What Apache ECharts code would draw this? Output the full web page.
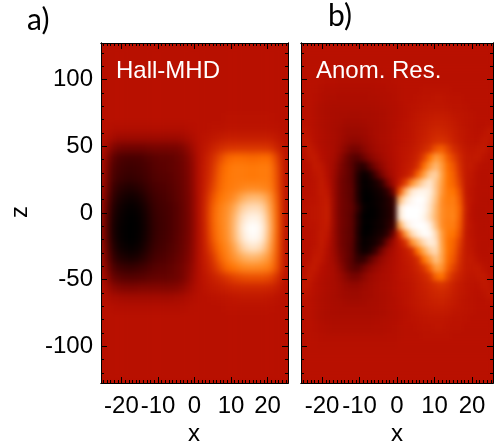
<!DOCTYPE html>
<html>
<head>
<meta charset="utf-8">
<style>
  html, body { margin: 0; padding: 0; background: #fff; }
  .clip { position: absolute; overflow: hidden; background: #b81000; }
  .heat { position: absolute; left: 0; top: 0; width: 100%; height: 100%; }
  #heatA { filter: blur(3.5px); }
  #heatB { filter: blur(2.5px); }
  #frame { position: absolute; left: 0; top: 0; width: 500px; height: 447px; }
</style>
<script src="https://cdn.jsdelivr.net/npm/echarts@6/dist/echarts.min.js"></script>
</head>
<body>
<div class="clip" style="left:101px;top:43px;width:187px;height:340px"><div id="heatA" class="heat"></div></div>
<div class="clip" style="left:301px;top:43px;width:192px;height:340px"><div id="heatB" class="heat"></div></div>
<div id="frame"></div>
<script>
const xTicks = [-20, -10, 0, 10, 20]
const zTicks = [-100, -50, 0, 50, 100]
const xMinorTicks = [-25,-24,-23,-22,-21,-19,-18,-17,-16,-15,-14,-13,-12,-11,-9,-8,-7,-6,-5,-4,-3,-2,-1,1,2,3,4,5,6,7,8,9,11,12,13,14,15,16,17,18,19,21,22,23,24,25]
const zMinorTicks = [-120,-110,-90,-80,-70,-60,-40,-30,-20,-10,10,20,30,40,60,70,80,90,110,120]
const xRange = [-25.6, 25.6]
const zRange = [-127.5, 127.5]

// one colour per level, -9 (black) .. 0 (background red) .. 9 (white)
const levelColors = ['#000000', '#100000', '#200000', '#340000', '#480000', '#600200', '#780400', '#900800', '#a80c00', '#b81000',
  '#c82000', '#d83400', '#ee5400', '#ff7400', '#ff8e28', '#ffa850', '#ffc890', '#ffe8d0', '#ffffff']

// panel a, read row by row from the top
const hallRows = [
  [0,0,0,0,0,0,0,0,0,0,0,0,0,0,0,0,0,0,0,0,0,0,0,0,0,0],
  [0,0,0,0,0,0,0,0,0,0,0,0,0,0,0,0,0,0,0,0,0,0,0,0,0,0],
  [0,0,0,0,0,0,0,0,0,0,0,0,0,0,0,0,0,0,0,0,0,0,0,0,0,0],
  [0,0,0,0,0,0,0,0,0,0,0,0,0,0,0,0,0,0,0,0,0,0,0,0,0,0],
  [0,0,0,0,0,0,0,0,0,0,0,0,0,0,0,0,0,0,0,0,0,0,0,0,0,0],
  [0,0,0,0,0,0,0,0,0,0,0,0,0,0,0,0,0,0,0,0,0,0,0,0,0,0],
  [0,0,0,0,0,0,0,0,0,0,0,0,0,0,0,0,0,0,0,0,0,0,0,0,0,0],
  [0,0,0,0,0,0,0,0,0,0,0,0,0,0,0,0,0,.1,.1,.1,.1,.1,.1,.1,0,0],
  [0,-.3,-.4,-.4,-.4,-.4,-.4,-.4,-.4,-.4,-.4,-.4,-.2,0,0,.1,.1,.2,.2,.2,.2,.2,.2,.2,.1,0],
  [-.3,-1,-1.4,-1.4,-1.4,-1.4,-1.4,-1.4,-1.4,-1.4,-1.4,-1.2,-.8,-.1,.2,.4,.6,.8,.8,.8,.8,.8,.8,.8,.5,.1],
  [-.8,-2.4,-3.2,-3.3,-3.3,-3.3,-3.2,-3.1,-3.1,-3,-3,-2.6,-1.6,-.3,.4,1,1.5,1.9,2,2,2,2,2,1.9,1.2,.3],
  [-1.4,-3.8,-4.8,-5,-5,-4.9,-4.6,-4.3,-4.1,-4,-3.7,-3.2,-2.2,-.5,.7,1.6,2.6,3.5,3.8,3.8,3.7,3.7,3.8,3.8,2.4,.5],
  [-1.6,-4.4,-5.2,-5.5,-5.5,-5.3,-4.9,-4.5,-4.3,-4.1,-3.8,-3.3,-2.4,-.5,.8,1.9,3.2,4,4.3,4.3,4.2,4.2,4.3,4.3,2.8,.5],
  [-1.7,-4.7,-5.6,-5.9,-5.9,-5.6,-5.2,-4.7,-4.5,-4.3,-3.9,-3.4,-2.5,-.5,.9,2.1,3.4,4.1,4.3,4.3,4.2,4.2,4.3,4.3,2.9,.5],
  [-2,-5.2,-6.5,-6.9,-6.9,-6.4,-5.7,-5.1,-4.8,-4.5,-4.1,-3.5,-2.6,-.5,1,2.4,3.6,4.2,4.4,4.6,4.8,4.8,4.7,4.5,3,.5],
  [-2.4,-5.8,-7.3,-7.9,-8,-7.4,-6.3,-5.5,-5.1,-4.7,-4.2,-3.6,-2.7,-.6,1.2,2.9,4,4.5,5,6,6.5,6.6,6.4,5.4,3.3,.5],
  [-2.7,-6.4,-8,-8.6,-8.7,-8.1,-6.9,-5.8,-5.3,-4.9,-4.4,-3.7,-2.7,-.6,1.3,3.3,4.4,5,6,7.1,7.6,7.7,7.4,6,3.5,.5],
  [-2.9,-6.8,-8.4,-8.9,-9,-8.5,-7.2,-6,-5.5,-5,-4.4,-3.7,-2.8,-.6,1.3,3.4,4.5,5.1,6.4,7.7,8.4,8.5,8,6.3,3.6,.5],
  [-3,-7,-8.6,-9,-9,-8.6,-7.3,-6.1,-5.5,-5,-4.4,-3.7,-2.8,-.6,1.2,3.3,4.4,5.1,6.5,8,8.9,9,8.4,6.5,3.6,.5],
  [-2.9,-6.8,-8.5,-9,-9,-8.5,-7.2,-6,-5.4,-4.9,-4.3,-3.6,-2.7,-.6,1.1,3.1,4.3,5,6.4,7.8,8.7,8.8,8.2,6.3,3.5,.5],
  [-2.6,-6.2,-8,-8.5,-8.6,-8,-6.7,-5.7,-5.2,-4.7,-4.2,-3.5,-2.6,-.6,1,2.6,3.9,4.7,5.8,7.1,7.8,7.9,7.4,5.9,3.4,.5],
  [-2.2,-5.4,-7,-7.4,-7.5,-6.9,-6,-5.2,-4.8,-4.4,-3.9,-3.3,-2.4,-.5,.8,2,3.4,4.4,5.2,6,6.4,6.4,6.1,5.2,3.2,.5],
  [-1.7,-4.4,-5.5,-5.8,-5.8,-5.4,-4.9,-4.5,-4.3,-4,-3.6,-3,-2.1,-.5,.6,1.5,2.6,3.7,4.1,4.6,4.8,4.8,4.7,4.4,2.9,.5],
  [-1.2,-3.4,-4.2,-4.4,-4.4,-4.3,-4.1,-3.9,-3.8,-3.7,-3.4,-2.9,-1.8,-.4,.4,.9,1.4,2,2.4,2.7,2.8,2.8,2.8,2.6,1.8,.3],
  [-.7,-2,-2.6,-2.7,-2.7,-2.6,-2.6,-2.6,-2.6,-2.6,-2.4,-2,-1.2,-.3,.2,.5,.7,1,1.2,1.3,1.3,1.3,1.3,1.2,.8,.1],
  [-.3,-.9,-1.1,-1.2,-1.2,-1.2,-1.2,-1.2,-1.2,-1.2,-1.1,-.9,-.5,-.1,0,.1,.2,.3,.4,.5,.5,.5,.5,.4,.2,0],
  [0,-.2,-.4,-.4,-.4,-.4,-.4,-.4,-.4,-.4,-.4,-.3,-.1,0,0,0,0,.1,.1,.1,.1,.1,.1,.1,0,0],
  [0,0,0,0,0,0,0,0,0,0,0,0,0,0,0,0,0,0,0,0,0,0,0,0,0,0],
  [0,0,0,0,0,0,0,0,0,0,0,0,0,0,0,0,0,0,0,0,0,0,0,0,0,0],
  [0,0,0,0,0,0,0,0,0,0,0,0,0,0,0,0,0,0,0,0,0,0,0,0,0,0],
  [0,0,0,0,0,0,0,0,0,0,0,0,0,0,0,0,0,0,0,0,0,0,0,0,0,0],
  [0,0,0,0,0,0,0,0,0,0,0,0,0,0,0,0,0,0,0,0,0,0,0,0,0,0],
  [0,0,0,0,0,0,0,0,0,0,0,0,0,0,0,0,0,0,0,0,0,0,0,0,0,0],
  [0,0,0,0,0,0,0,0,0,0,0,0,0,0,0,0,0,0,0,0,0,0,0,0,0,0]
]

// panel b, read row by row from the top
const anomRows = [
  [0,0,0,0,0,0,0,0,0,0,0,0,0,0,0,0,0,0,0,0,0,0,0,0,0,0,0,0,0,0,0,0],
  [0,0,0,0,0,0,0,0,0,0,0,0,0,0,0,0,0,0,0,0,0,0,0,0,0,0,0,0,0,0,0,0],
  [0,0,0,0,0,0,0,0,0,0,0,0,0,0,0,0,0,0,0,0,0,0,0,0,0,0,0,0,0,0,0,0],
  [0,0,0,0,-.1,-.1,-.1,-.1,-.1,-.1,-.1,-.1,-.1,-.1,0,0,0,0,0,0,0,0,0,0,0,0,0,0,0,0,0,0],
  [0,0,0,-.1,-.2,-.2,-.3,-.3,-.3,-.3,-.3,-.3,-.3,-.2,-.2,-.1,0,0,0,0,0,0,0,0,0,0,0,0,0,0,0,0],
  [0,0,-.1,-.3,-.4,-.4,-.5,-.5,-.5,-.5,-.5,-.5,-.4,-.4,-.3,-.2,-.1,0,0,0,.1,.1,.1,.1,.1,0,0,0,0,0,0,0],
  [0,0,-.2,-.4,-.6,-.6,-.7,-.7,-.7,-.7,-.7,-.6,-.6,-.5,-.4,-.3,-.1,0,0,.1,.2,.2,.3,.3,.2,.1,.1,0,0,0,0,0],
  [0,0,-.3,-.6,-.7,-.8,-.8,-.8,-.8,-.8,-.8,-.8,-.7,-.6,-.5,-.4,-.2,0,.1,.2,.3,.4,.4,.4,.3,.2,.2,.1,0,0,0,0],
  [0,0,-.3,-.6,-.8,-.9,-1,-1,-1.1,-1.1,-1,-1,-.9,-.8,-.6,-.4,-.2,0,.2,.4,.5,.6,.7,.7,.6,.4,.3,.2,.1,0,0,0],
  [.1,0,-.3,-.6,-.8,-1,-1.1,-1.3,-1.3,-1.3,-1.2,-1.1,-1,-.8,-.6,-.4,-.1,.1,.3,.5,.7,.9,1,1,.9,.6,.4,.2,.1,0,0,.1],
  [.4,.1,-.2,-.5,-.8,-1,-1.2,-1.5,-1.6,-1.6,-1.4,-1.2,-1,-.8,-.6,-.3,0,.1,.3,.6,.8,1.1,1.3,1.3,1.1,.8,.5,.3,.1,0,.2,.5],
  [.6,.3,-.2,-.5,-.8,-1,-1.3,-1.7,-2,-2,-1.7,-1.4,-1.1,-.8,-.6,-.3,0,.2,.4,.7,1,1.3,1.7,1.8,1.5,1,.6,.3,.2,.1,.5,.3],
  [.2,.6,.1,-.4,-.7,-1,-1.5,-2.3,-3,-3,-2.3,-1.7,-1.3,-1,-.7,-.3,.1,.3,.5,.9,1.4,2,3,3.3,2.5,1.6,1,.5,.3,.5,.6,.1],
  [0,.5,.5,-.2,-.7,-1.1,-2,-3.2,-4.2,-4.5,-3.5,-2.5,-1.8,-1.3,-.8,-.4,.1,.4,.7,1.2,2.4,4,5.5,4.8,3.3,2.4,1.4,.6,.5,.6,.2,-.1],
  [0,.1,.6,.3,-.6,-1.3,-2.5,-3.5,-4.4,-6,-6.5,-4.5,-2.9,-1.9,-1.1,-.5,.1,.5,.9,1.8,3.8,5.5,6.5,5.5,3.8,3,1.7,.6,.6,.1,-.1,-.1],
  [0,0,.4,.5,-.4,-1.5,-2.8,-3.6,-4.4,-6.8,-8.5,-7.5,-5,-3,-1.6,-.7,.2,.7,1.5,3.5,5.5,7,7.3,5.8,4,3.3,2,.6,.4,-.1,-.2,-.1],
  [0,0,.2,.6,0,-1.6,-3,-3.7,-4.3,-7,-8.8,-8.4,-7.5,-6,-3,-1.2,.8,2.5,5,6.5,7.5,8,7,5.6,4,3.5,2.3,.6,.3,-.1,-.2,-.2],
  [0,0,.2,.6,.3,-1.6,-3,-3.7,-4.2,-7,-9,-8.8,-8.2,-7.5,-6,-3,3,6.5,8,8.5,8.6,8.3,7,5.4,4.2,4,2.8,.6,.2,-.2,-.2,-.2],
  [0,.1,.2,.5,.6,-1.5,-3,-3.6,-4.2,-6.8,-9,-9,-8.5,-8,-7,-5.8,6.5,8,8.7,9,8.9,8,6.8,5,4.3,4.4,3.2,.8,.2,-.2,-.3,-.3],
  [.1,.2,.3,.5,.8,-1.5,-3,-3.6,-4,-6,-8.5,-9,-8.7,-8,-7.2,-6.2,8,9,9,9,8.8,7.8,6.5,5,4.5,4.5,3.5,1,0,-.3,-.3,-.2],
  [.1,.2,.3,.5,.8,-1.5,-3,-3.6,-4.2,-6.8,-9,-9,-8.7,-8,-7.2,-6.2,8,9,9,9,8.6,7.6,6.4,5,4.5,4.6,3.4,.9,0,-.3,-.3,-.2],
  [0,.1,.2,.5,.6,-1.5,-3,-3.6,-4.2,-6.8,-9,-9,-8.4,-8,-6.8,-5.5,6,8,8.8,9,9,8.4,6.8,5,4.4,4.4,3.2,.8,.2,-.2,-.3,-.2],
  [0,0,.2,.6,.3,-1.6,-3,-3.7,-4.2,-7,-9,-8.7,-8,-7.4,-6,-3,2,5.5,7.5,8.4,8.9,8.8,7.6,5.6,4.2,4,2.8,.6,.2,-.2,-.2,-.2],
  [0,0,.2,.6,0,-1.6,-3,-3.7,-4.3,-7,-8.7,-8.2,-7.5,-6,-3,-1.2,.5,2,5,6.5,7.6,8.3,7.9,5.8,4,3.5,2.3,.6,.3,-.1,-.2,-.2],
  [0,0,.4,.5,-.4,-1.5,-2.8,-3.6,-4.4,-6.8,-8.2,-7.5,-5.5,-3,-1.5,-.7,.2,.7,1.5,4,6,7.2,7.6,6,4,3.3,2,.6,.4,-.1,-.2,-.1],
  [0,.1,.6,.3,-.6,-1.3,-2.5,-3.5,-4.4,-6,-6,-4.2,-2.7,-1.7,-1.1,-.5,.1,.5,.9,1.7,4,5.5,6.8,5.9,3.8,3,1.7,.6,.6,.1,-.1,-.1],
  [0,.5,.5,-.2,-.7,-1.1,-2,-3.2,-4.2,-4.5,-3.4,-2.4,-1.7,-1.2,-.8,-.4,.1,.4,.7,1.2,2.1,3.5,5.5,5.2,3.4,2.4,1.4,.6,.5,.6,.2,-.1],
  [.2,.6,.1,-.4,-.7,-1,-1.5,-2.3,-3,-3,-2.2,-1.6,-1.2,-.9,-.7,-.3,.1,.3,.5,.9,1.3,2,3.5,4,2.6,1.6,1,.5,.3,.5,.6,.1],
  [.6,.3,-.2,-.5,-.8,-1,-1.3,-1.7,-1.9,-1.9,-1.6,-1.3,-1.1,-.8,-.6,-.3,0,.2,.4,.7,1,1.3,1.7,2,1.6,1,.6,.3,.2,.1,.5,.3],
  [.4,.1,-.2,-.5,-.8,-1,-1.2,-1.4,-1.5,-1.5,-1.3,-1.2,-1,-.8,-.6,-.3,0,.1,.3,.6,.8,1.1,1.3,1.4,1.2,.8,.5,.3,.1,0,.2,.5],
  [.1,0,-.3,-.6,-.8,-1,-1.1,-1.2,-1.3,-1.3,-1.2,-1.1,-1,-.8,-.6,-.4,-.1,.1,.3,.5,.7,.9,1,1.1,.9,.6,.4,.2,.1,0,0,.1],
  [0,0,-.3,-.6,-.8,-.9,-1,-1,-1,-1,-1,-1,-.9,-.8,-.6,-.4,-.2,0,.2,.4,.5,.6,.7,.7,.6,.4,.3,.2,.1,0,0,0],
  [0,0,-.3,-.6,-.7,-.8,-.8,-.8,-.8,-.8,-.8,-.8,-.7,-.6,-.5,-.4,-.2,0,.1,.2,.3,.4,.4,.4,.3,.2,.2,.1,0,0,0,0],
  [0,0,-.2,-.4,-.5,-.6,-.6,-.6,-.6,-.6,-.6,-.6,-.5,-.5,-.4,-.3,-.1,0,0,.1,.2,.2,.3,.3,.2,.1,.1,0,0,0,0,0],
  [0,0,-.1,-.2,-.3,-.3,-.3,-.3,-.3,-.3,-.3,-.3,-.3,-.3,-.2,-.2,-.1,0,0,0,.1,.1,.1,.1,.1,0,0,0,0,0,0,0],
  [0,0,0,-.1,-.1,-.1,-.1,-.1,-.1,-.1,-.1,-.1,-.1,-.1,-.1,-.1,0,0,0,0,0,0,0,0,0,0,0,0,0,0,0,0],
  [0,0,0,0,0,0,0,0,0,0,0,0,0,0,0,0,0,0,0,0,0,0,0,0,0,0,0,0,0,0,0,0],
  [0,0,0,0,0,0,0,0,0,0,0,0,0,0,0,0,0,0,0,0,0,0,0,0,0,0,0,0,0,0,0,0],
  [0,0,0,0,0,0,0,0,0,0,0,0,0,0,0,0,0,0,0,0,0,0,0,0,0,0,0,0,0,0,0,0],
  [0,0,0,0,0,0,0,0,0,0,0,0,0,0,0,0,0,0,0,0,0,0,0,0,0,0,0,0,0,0,0,0]
]

function drawHeat(id, rows) {
  const cells = []
  rows.forEach((row, r) => row.forEach((v, c) => cells.push([c, r, v])))
  const chart = echarts.init(document.getElementById(id))
  chart.setOption({
    animation: false,
    grid: { left: 0, right: 0, top: 0, bottom: 0 },
    xAxis: { type: 'category', show: false, data: rows[0].map((_, i) => i) },
    yAxis: { type: 'category', show: false, inverse: true, data: rows.map((_, i) => i) },
    visualMap: { show: false, min: -9, max: 9, calculable: false, inRange: { color: levelColors } },
    series: [{ type: 'heatmap', data: cells, progressive: 0, itemStyle: { borderWidth: 0 } }]
  })
}
drawHeat('heatA', hallRows)
drawHeat('heatB', anomRows)

const labelFont = { fontFamily: 'Liberation Sans', fontSize: 24, color: '#000' }

// values: tick positions, len: tick length, margin: null leaves the side without labels
function axisFor(gridIndex, position, range, values, len, margin) {
  return {
    type: 'value', gridIndex, position, min: range[0], max: range[1],
    splitLine: { show: false },
    axisLine: { show: true, onZero: false, lineStyle: { color: '#000', width: 1 } },
    axisTick: { show: true, inside: true, length: len, customValues: values, lineStyle: { color: '#000' } },
    axisLabel: margin === null ? { show: false } : { ...labelFont, margin, customValues: values, hideOverlap: false }
  }
}

const panels = [
  { left: 101, top: 43, width: 187, height: 340 },
  { left: 301, top: 43, width: 192, height: 340 }
]
const grid = []
const xAxis = []
const yAxis = []
panels.forEach((rect, p) => {
  // each panel gets one grid for the major ticks and one on top of it for the minor ticks
  grid.push(rect, rect)
  const major = grid.length - 2
  const minor = grid.length - 1
  xAxis.push(axisFor(major, 'bottom', xRange, xTicks, 6, 11), axisFor(major, 'top', xRange, xTicks, 6, null))
  xAxis.push(axisFor(minor, 'bottom', xRange, xMinorTicks, 3, null), axisFor(minor, 'top', xRange, xMinorTicks, 3, null))
  yAxis.push(axisFor(major, 'left', zRange, zTicks, 6, p === 0 ? 8 : null), axisFor(major, 'right', zRange, zTicks, 6, null))
  yAxis.push(axisFor(minor, 'left', zRange, zMinorTicks, 3, null), axisFor(minor, 'right', zRange, zMinorTicks, 3, null))
})

const frame = echarts.init(document.getElementById('frame'))
frame.setOption({
  animation: false,
  grid, xAxis, yAxis,
  series: [],
  graphic: [
    { type: 'text', left: 116, top: 59, style: { text: 'Hall-MHD', fill: '#fff', font: '24px "Liberation Sans"' } },
    { type: 'text', left: 316, top: 59, style: { text: 'Anom. Res.', fill: '#fff', font: '24px "Liberation Sans"' } },
    { type: 'text', left: 27, top: 5, style: { text: 'a)', fill: '#000', font: '30px "Lato"' } },
    { type: 'text', left: 328, top: 1, style: { text: 'b)', fill: '#000', font: '30px "Lato"' } },
    { type: 'text', left: 188, top: 422, style: { text: 'x', fill: '#000', font: '24px "Liberation Sans"' } },
    { type: 'text', left: 391, top: 422, style: { text: 'x', fill: '#000', font: '24px "Liberation Sans"' } },
    { type: 'text', x: 20, y: 212, rotation: Math.PI / 2, style: { text: 'z', fill: '#000', font: '24px "Liberation Sans"', align: 'center', verticalAlign: 'middle' } }
  ]
})
</script>
</body>
</html>
